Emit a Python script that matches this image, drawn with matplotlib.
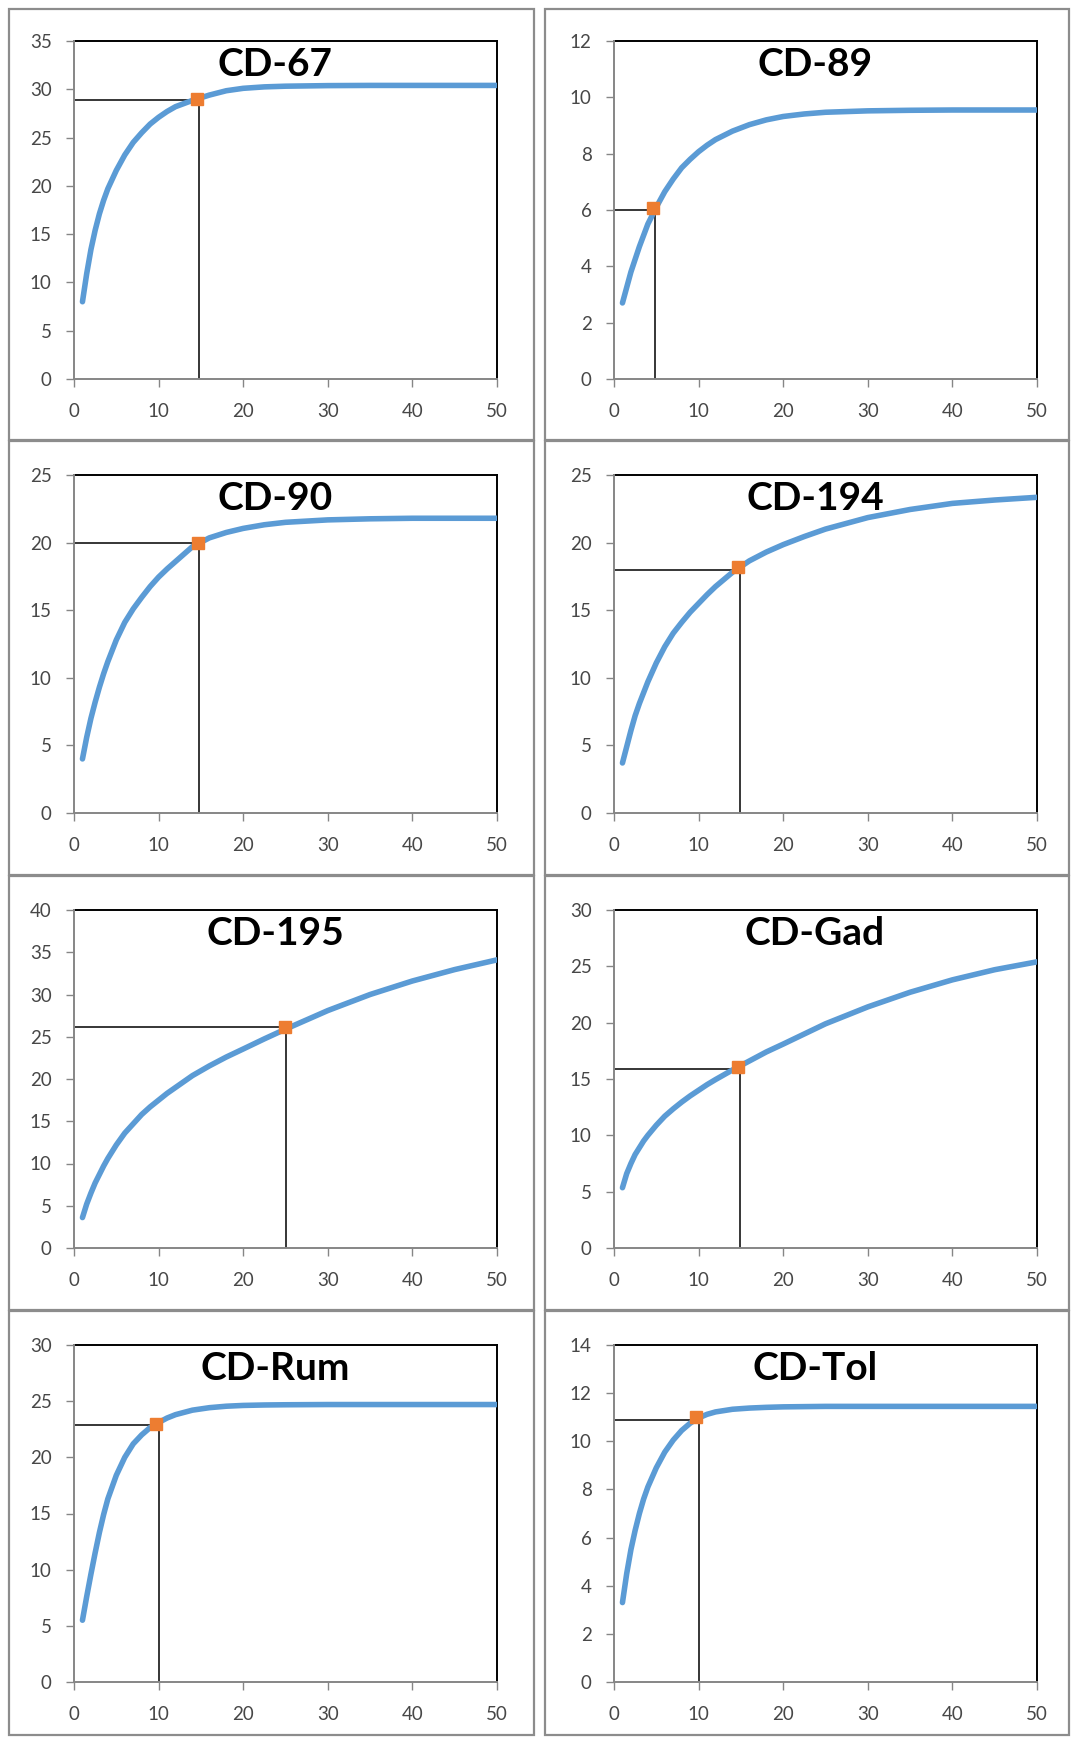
import matplotlib
matplotlib.use('Agg')
import matplotlib.pyplot as plt
from matplotlib.patches import Rectangle

plt.rcParams['font.family'] = ['Lato', 'DejaVu Sans']

W, H = 1071, 1737

# values, one list per panel
x_pts = [1, 1.5, 2, 2.5, 3, 3.5, 4, 5, 6, 7, 8, 9, 10, 11, 12, 14, 16, 18, 20, 22.5, 25, 30, 35, 40, 45, 50]

titles = ['CD-67', 'CD-89', 'CD-90', 'CD-194', 'CD-195', 'CD-Gad', 'CD-Rum', 'CD-Tol']

y_cd67 = [8.0, 10.9, 13.4, 15.4, 17.1, 18.5, 19.7, 21.6, 23.2, 24.5, 25.5, 26.4, 27.1, 27.7, 28.2,
          28.85, 29.4, 29.85, 30.1, 30.25, 30.32, 30.38, 30.4, 30.4, 30.4, 30.4]
y_cd89 = [2.7, 3.25, 3.8, 4.25, 4.7, 5.1, 5.5, 6.1, 6.65, 7.1, 7.5, 7.8, 8.07, 8.3, 8.5,
          8.8, 9.03, 9.2, 9.32, 9.41, 9.47, 9.52, 9.54, 9.55, 9.55, 9.55]
y_cd90 = [4.0, 5.6, 7.0, 8.2, 9.3, 10.3, 11.2, 12.8, 14.1, 15.1, 15.95, 16.75, 17.45, 18.05, 18.6,
          19.7, 20.35, 20.75, 21.05, 21.32, 21.5, 21.68, 21.76, 21.8, 21.8, 21.8]
y_cd194 = [3.7, 4.9, 6.1, 7.2, 8.1, 8.9, 9.7, 11.1, 12.3, 13.3, 14.1, 14.85, 15.5, 16.15, 16.75,
           17.8, 18.65, 19.3, 19.85, 20.45, 21.0, 21.85, 22.45, 22.9, 23.15, 23.35]
y_cd195 = [3.6, 5.2, 6.5, 7.7, 8.7, 9.7, 10.6, 12.2, 13.6, 14.7, 15.8, 16.7, 17.5, 18.3, 19.0,
           20.4, 21.55, 22.6, 23.55, 24.75, 25.9, 28.1, 30.0, 31.6, 32.95, 34.1]
y_cdgad = [5.35, 6.6, 7.5, 8.3, 8.9, 9.5, 10.0, 10.9, 11.7, 12.35, 12.95, 13.5, 14.0, 14.5, 14.95,
           15.8, 16.6, 17.4, 18.1, 19.0, 19.9, 21.4, 22.7, 23.8, 24.7, 25.4]
y_cdrum = [5.5, 7.6, 9.6, 11.5, 13.3, 14.9, 16.3, 18.4, 20.0, 21.2, 22.0, 22.65, 23.1, 23.5, 23.8,
           24.2, 24.42, 24.55, 24.62, 24.66, 24.68, 24.7, 24.7, 24.7, 24.7, 24.7]
y_cdtol = [3.3, 4.5, 5.5, 6.3, 7.0, 7.6, 8.1, 8.9, 9.55, 10.05, 10.45, 10.75, 10.97, 11.12, 11.22,
           11.33, 11.38, 11.41, 11.43, 11.44, 11.45, 11.45, 11.45, 11.45, 11.45, 11.45]
curves = [y_cd67, y_cd89, y_cd90, y_cd194, y_cd195, y_cdgad, y_cdrum, y_cdtol]

# highlighted point and the guide lines drawn to it
marker_x = [14.5, 4.6, 14.6, 14.6, 24.9, 14.6, 9.7, 9.7]
marker_y = [29.0, 6.08, 20.0, 18.2, 26.2, 16.05, 23.0, 11.0]
guide_x = [14.8, 4.8, 14.8, 14.9, 25.0, 14.9, 10.0, 10.0]
guide_y = [28.9, 6.0, 20.0, 18.0, 26.1, 15.9, 22.9, 10.9]

y_max = [35, 12, 25, 25, 40, 30, 30, 14]
y_step = [5, 2, 5, 5, 5, 5, 5, 2]
x_ticks = [0, 10, 20, 30, 40, 50]

fig = plt.figure(figsize=(W / 100, H / 100), dpi=100)
fig.patch.set_facecolor('white')

# chart boxes (px): columns and rows
col_box = [(9, 534), (545, 1069)]
row_box = [(9, 440), (441, 875), (876, 1310), (1311, 1735)]
col_ax = [(74, 497), (614, 1037)]
row_ax = [(41, 379), (475, 813), (910, 1248), (1345, 1682)]

grey = '#868686'

for i in range(8):
    r, c = divmod(i, 2)
    bx0, bx1 = col_box[c]
    by0, by1 = row_box[r]
    fig.add_artist(Rectangle((bx0 / W, 1 - by1 / H), (bx1 - bx0) / W, (by1 - by0) / H,
                             transform=fig.transFigure, fill=False, edgecolor='#8c8c8c', lw=1.6))

    ax0, ax1 = col_ax[c]
    ay0, ay1 = row_ax[r]
    ax = fig.add_axes([ax0 / W, 1 - ay1 / H, (ax1 - ax0) / W, (ay1 - ay0) / H])

    ax.plot(x_pts, curves[i], color='#5b9bd5', lw=4, solid_capstyle='round',
            solid_joinstyle='round', zorder=3)
    ax.plot([0, guide_x[i], guide_x[i]], [guide_y[i], guide_y[i], 0], color='black', lw=1.1, zorder=2)
    ax.plot(marker_x[i], marker_y[i], marker='s', color='#ed7d31', markersize=9, zorder=4)

    ax.set_xlim(0, 50)
    ax.set_ylim(0, y_max[i])
    ax.set_xticks(x_ticks)
    ax.set_yticks(list(range(0, y_max[i] + 1, y_step[i])))

    for side in ['top', 'right']:
        ax.spines[side].set_color('black')
        ax.spines[side].set_linewidth(1.4)
    for side in ['left', 'bottom']:
        ax.spines[side].set_color(grey)
        ax.spines[side].set_linewidth(1.4)
        ax.spines[side].set_zorder(5)

    ax.tick_params(axis='both', direction='out', length=6, width=1, color=grey,
                   labelsize=13.5, labelcolor='#474747')
    ax.tick_params(axis='x', pad=11)
    ax.tick_params(axis='y', pad=10)

    ax.text(0.475, 0.93, titles[i], transform=ax.transAxes, ha='center', va='center',
            fontsize=28, fontweight='bold', color='black', zorder=6)

plt.savefig('out.png', dpi=100, facecolor='white')
